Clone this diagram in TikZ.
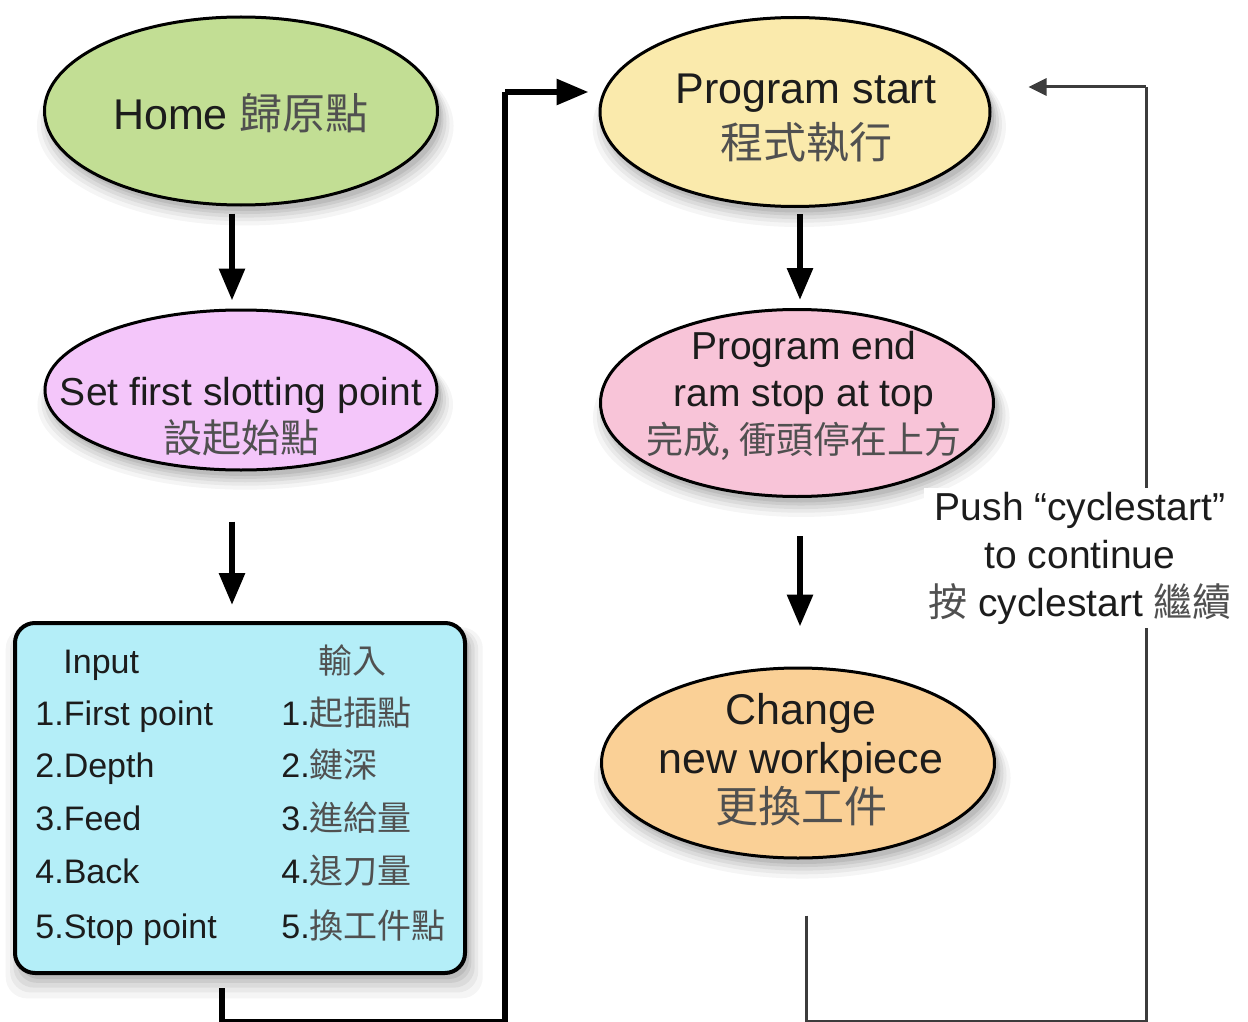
\documentclass[tikz,border=0pt]{standalone}
\usepackage{fontspec}
\setmainfont{Liberation Sans}
\newfontfamily\cjk{Noto Sans CJK TC}
\usetikzlibrary{shapes.geometric,shadows,arrows.meta}
\definecolor{cHome}{RGB}{194,222,148}
\definecolor{cSet}{RGB}{244,198,250}
\definecolor{cBox}{RGB}{180,238,248}
\definecolor{cStart}{RGB}{250,234,172}
\definecolor{cEnd}{RGB}{248,196,216}
\definecolor{cChange}{RGB}{250,208,150}
\definecolor{txt}{RGB}{28,28,28}
\definecolor{cjktxt}{RGB}{80,80,80}
\definecolor{thin}{RGB}{60,60,60}
\newcommand{\zh}[1]{{\cjk\color{cjktxt}#1}}
\begin{document}
\begin{tikzpicture}[x=0.5pt,y=-0.5pt,
  softshadow/.style={
    drop shadow={shadow xshift=2pt,shadow yshift=-7pt,opacity=0.04,shadow scale=1.06,fill=black},
    drop shadow={shadow xshift=2pt,shadow yshift=-6pt,opacity=0.05,shadow scale=1.04,fill=black},
    drop shadow={shadow xshift=2pt,shadow yshift=-5pt,opacity=0.06,shadow scale=1.025,fill=black},
    drop shadow={shadow xshift=2pt,shadow yshift=-4pt,opacity=0.07,shadow scale=1.01,fill=black},
    drop shadow={shadow xshift=2pt,shadow yshift=-3pt,opacity=0.08,shadow scale=1.0,fill=black}},
  ell/.style={ellipse, draw=black, line width=1.5pt, inner sep=0pt, softshadow},
  lbl/.style={align=center, text=txt, inner sep=0pt},
  boxtxt/.style={anchor=base west, text=txt, inner sep=0pt, font=\fontsize{17}{20}\selectfont},
  thickarrow/.style={line width=3pt, -{Triangle[length=16pt,width=12.5pt]}},
  thickline/.style={line width=3pt},
  thinarrow/.style={line width=1.5pt, draw=thin, -{Triangle[length=9pt,width=8.5pt]}},
]
\useasboundingbox (0,0) rectangle (1248,1022);

% nodes
\node[ell, fill=cHome, minimum width=196.5pt, minimum height=94pt] (home) at (241,111) {};
\node[lbl, font=\fontsize{21.5}{27}\selectfont] (hometxt) at (241,113) {Home \zh{歸原點}};

\node[ell, fill=cSet, minimum width=196pt, minimum height=80pt] (set) at (241,390) {};
\node[lbl, font=\fontsize{19.5}{23.5}\selectfont] (settxt) at (241,417) {Set first slotting point\\\zh{設起始點}};

\node[draw=black, line width=2pt, rounded corners=10pt, fill=cBox, softshadow,
      minimum width=225pt, minimum height=175pt, inner sep=0pt] (box) at (240,798) {};
\node[boxtxt] (in0) at (63,673) {Input};
\node[boxtxt] (in1) at (35,725) {1.First point};
\node[boxtxt] (in2) at (35,777) {2.Depth};
\node[boxtxt] (in3) at (35,830) {3.Feed};
\node[boxtxt] (in4) at (35,883) {4.Back};
\node[boxtxt] (in5) at (35,938) {5.Stop point};
\node[boxtxt] (zh0) at (318,673) {\zh{輸入}};
\node[boxtxt] (zh1) at (281,725) {1.\zh{起插點}};
\node[boxtxt] (zh2) at (281,777) {2.\zh{鍵深}};
\node[boxtxt] (zh3) at (281,830) {3.\zh{進給量}};
\node[boxtxt] (zh4) at (281,883) {4.\zh{退刀量}};
\node[boxtxt] (zh5) at (281,938) {5.\zh{換工件點}};

\node[ell, fill=cStart, minimum width=195pt, minimum height=94.5pt] (start) at (795,112) {};
\node[lbl, font=\fontsize{21.5}{27.5}\selectfont] (starttxt) at (806,118) {Program start\\\zh{程式執行}};

\node[ell, fill=cEnd, minimum width=196.5pt, minimum height=93.5pt] (end) at (797,403) {};
\node[lbl, font=\fontsize{19.5}{23.5}\selectfont] (endtxt) at (804,396) {Program end\\ram stop at top\\{\fontsize{18.5}{23.5}\selectfont\zh{完成, 衝頭停在上方}}};

\node[ell, fill=cChange, minimum width=196.5pt, minimum height=95pt] (change) at (798,763) {};
\node[lbl, font=\fontsize{21.5}{24.5}\selectfont] (changetxt) at (801,760) {Change\\new workpiece\\\zh{更換工件}};

% connectors
\draw[thickarrow] ([xshift=-4.5pt,yshift=-3.5pt]home.south) -- ([xshift=-4.5pt,yshift=4pt]set.north);
\draw[thickarrow] ([xshift=-4.5pt,yshift=-25pt]set.south) -- ([xshift=-4pt,yshift=8pt]box.north);
\draw[thickarrow] ([xshift=2.5pt,yshift=-3pt]start.south) -- ([xshift=1.5pt,yshift=4pt]end.north);
\draw[thickarrow] ([xshift=1.5pt,yshift=-19pt]end.south) -- ([xshift=1pt,yshift=20pt]change.north);

\coordinate (lb1) at (222,1022);
\coordinate (lb2) at (505,1022);
\coordinate (lt) at (505,92);
\draw[thickline] ([xshift=-9pt,yshift=-6.5pt]box.south) -- (lb1) -- (lb2) -- (lt);
\draw[thickarrow] (lt) -- ([xshift=-5pt,yshift=10pt]start.west);

\coordinate (rb1) at (806,1021);
\coordinate (rb2) at (1146,1021);
\coordinate (rt) at (1146,87);
\draw[line width=1.5pt, draw=thin] ([xshift=4pt,yshift=-28pt]change.south) -- (rb1) -- (rb2) -- (rt);
\draw[thinarrow] (rt) -- ([xshift=18.5pt,yshift=12.5pt]start.east);

\node[lbl, fill=white, inner sep=2pt, font=\fontsize{19.5}{24}\selectfont] (push) at (1080,558)
  {Push “cyclestart”\\to continue\\\zh{按} cyclestart \zh{繼續}};
\end{tikzpicture}
\end{document}
